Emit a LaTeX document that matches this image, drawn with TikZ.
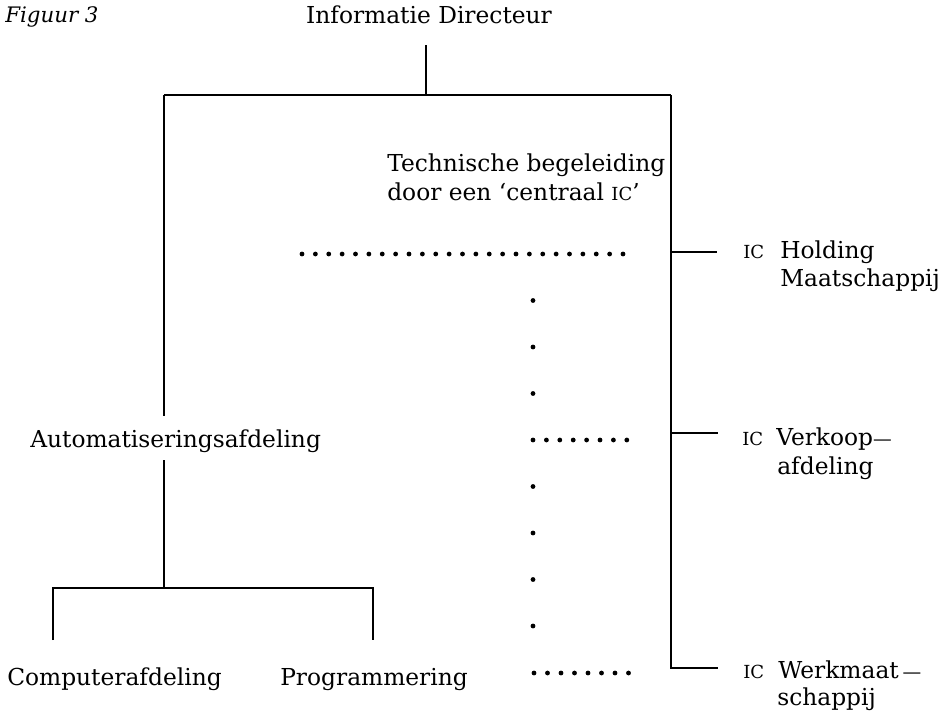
\documentclass[tikz,border=0pt]{standalone}
\usepackage{fontspec}
\setmainfont{DejaVu Serif}
\newcommand{\icmark}{{\fontsize{13.5}{14}\selectfont IC}}
\newcommand{\smdash}{{\fontsize{14}{14}\selectfont —}}
\begin{document}
\begin{tikzpicture}[x=0.75pt,y=-0.75pt,
  txt/.style={font=\fontsize{17.5}{21}\selectfont, inner sep=0pt, anchor=base west},
  ln/.style={line width=1.4pt},
  dotm/.style={fill=black}]
\useasboundingbox (0,0) rectangle (948,714);
% texts
\node[txt, font=\fontsize{16}{18}\selectfont\itshape] (fig) at (5,22) {Figuur 3};
\node[txt, anchor=base] (dir) at (429,23) {Informatie Directeur};
\node[txt] (tech1) at (387,171) {Technische begeleiding};
\node[txt] (tech2) at (387,200) {door een ‘centraal \icmark’};
\node[txt] (auto) at (30,447) {Automatiseringsafdeling};
\node[txt] (comp) at (7,685) {Computerafdeling};
\node[txt] (prog) at (280,685) {Programmering};
\node[txt] (ic1) at (743,258) {\icmark};
\node[txt] (hold1) at (780,258) {Holding};
\node[txt] (hold2) at (780,286) {Maatschappij};
\node[txt] (ic2) at (742,445) {\icmark};
\node[txt] (verk1) at (776,445) {Verkoop\smdash};
\node[txt] (verk2) at (777,474) {afdeling};
\node[txt] (ic3) at (743,678) {\icmark};
\node[txt] (werk1) at (778,678) {Werkmaat\,\smdash};
\node[txt] (werk2) at (777,705) {schappij};
% coordinates
\coordinate (dirS) at (426,45);
\coordinate (busM) at (426,95);
\coordinate (busL) at (164,95);
\coordinate (busR) at (671,95);
\coordinate (autoT) at (164,416);
\coordinate (autoB) at (164,460);
\coordinate (subM) at (164,588);
\coordinate (subL) at (53,588);
\coordinate (subR) at (373,588);
\coordinate (compT) at (53,640);
\coordinate (progT) at (373,640);
\coordinate (br1) at (671,252);
\coordinate (br1e) at (717,252);
\coordinate (br2) at (671,433);
\coordinate (br2e) at (718,433);
\coordinate (br3) at (671,668);
\coordinate (br3e) at (718,668);
% lines
\draw[ln] (dirS) -- (busM);
\draw[ln] (busL) -- (busR);
\draw[ln] (busL) -- (autoT);
\draw[ln] (autoB) -- (subM);
\draw[ln] (compT) -- (subL) -- (subR) -- (progT);
\draw[ln] (busR) -- (br3) -- (br3e);
\draw[ln] (br1) -- (br1e);
\draw[ln] (br2) -- (br2e);
% dots
\foreach \i in {0,...,24} \fill[dotm] (302+13.375*\i,254) circle[radius=1.8pt];
\foreach \k in {1,2,3,5,6,7,8} \fill[dotm] (533,254+46.5*\k) circle[radius=1.8pt];
\foreach \i in {0,...,7} \fill[dotm] (533+13.4*\i,440) circle[radius=1.8pt];
\foreach \i in {0,...,7} \fill[dotm] (534+13.5*\i,673) circle[radius=1.8pt];
\end{tikzpicture}
\end{document}
